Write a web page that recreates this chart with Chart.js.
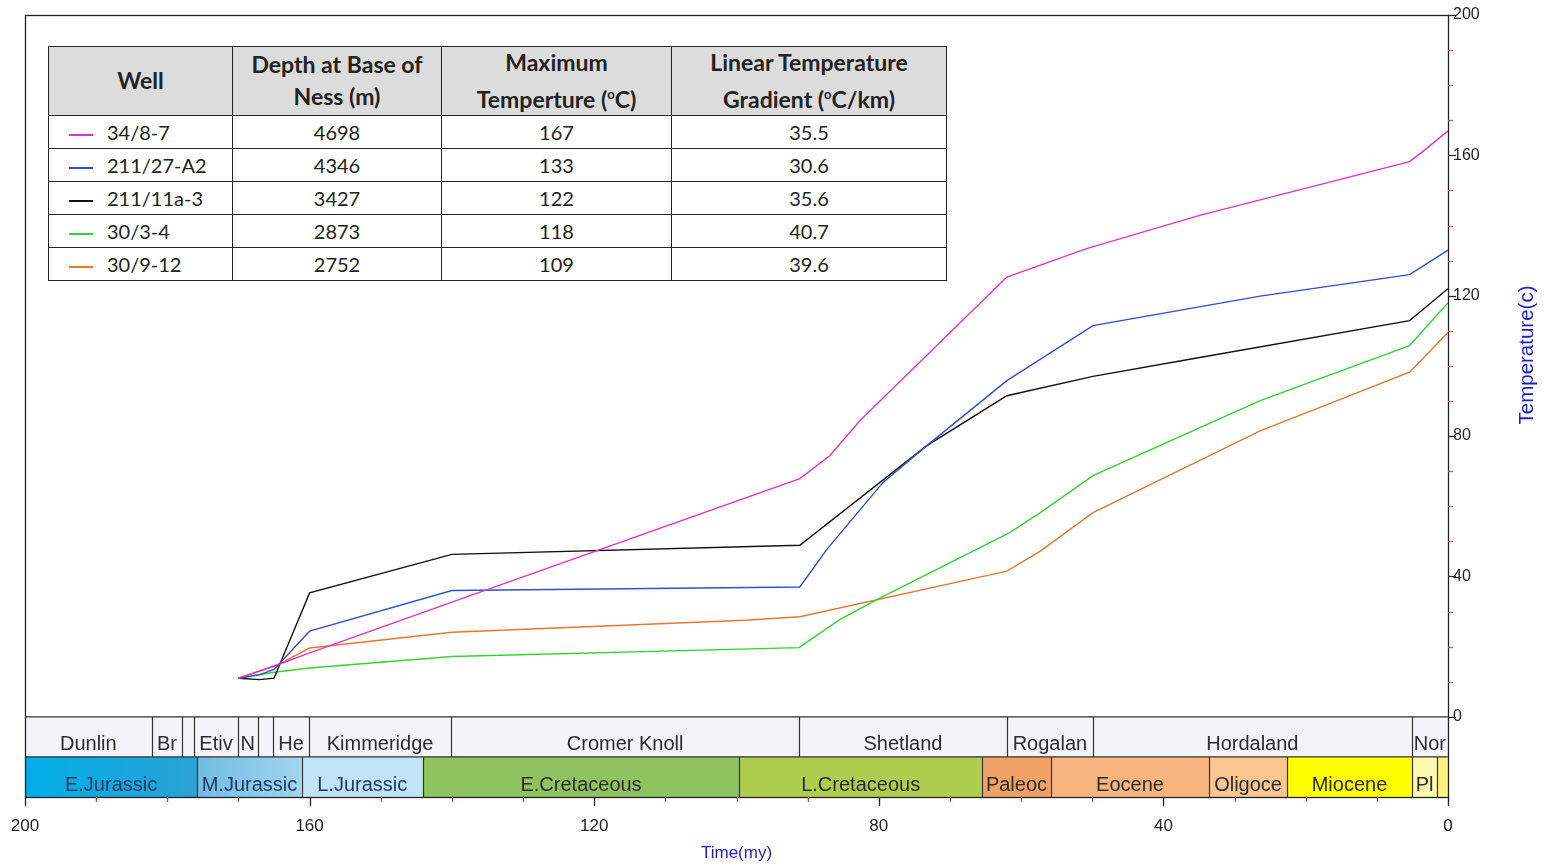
<!DOCTYPE html>
<html>
<head>
<meta charset="utf-8">
<script src="https://cdn.jsdelivr.net/npm/chart.js@4.4.1/dist/chart.umd.min.js"></script>
<style>
html, body { margin: 0; padding: 0; background: #fff; }
#wrap { position: relative; width: 1545px; height: 866px; }
#c { position: absolute; left: 0; top: 0; }
#tbl { position: absolute; left: 48px; top: 46px; border-collapse: collapse; table-layout: fixed;
  font-family: Lato, "Open Sans", sans-serif; font-size: 20px; color: #222; background: #fff; }
#tbl th, #tbl td { border: 1.5px solid #222; padding: 0; text-align: center; white-space: nowrap; }
#tbl th { background: #dcdcdc; font-weight: bold; font-size: 23px; height: 63px; line-height: 31.5px; }
#tbl td { height: 32px; line-height: 32px; }
#tbl td.well { text-align: left; }
#tbl .key { display: inline-block; width: 24px; height: 2px; vertical-align: middle; margin: 0 14px 0 20px; }
#tbl sup { font-size: 13px; }
</style>
</head>
<body>
<div id="wrap">
  <canvas id="c" width="1545" height="866"></canvas>
  <table id="tbl">
    <colgroup><col style="width:184px"><col style="width:209px"><col style="width:230px"><col style="width:275px"></colgroup>
    <thead>
      <tr>
        <th>Well</th>
        <th>Depth at Base of<br>Ness (m)</th>
        <th>Maximum<br>Temperture (<sup>o</sup>C)</th>
        <th>Linear Temperature<br>Gradient (<sup>o</sup>C/km)</th>
      </tr>
    </thead>
    <tbody id="tbody"></tbody>
  </table>
</div>
<script>
"use strict";

// ---- well table ----
var wells = ["34/8-7", "211/27-A2", "211/11a-3", "30/3-4", "30/9-12"];
var nessDepth = [4698, 4346, 3427, 2873, 2752];
var maxTemp = [167, 133, 122, 118, 109];
var tempGradient = ["35.5", "30.6", "35.6", "40.7", "39.6"];
var wellColors = ["#e032c8", "#2f4fd4", "#111111", "#2fd62f", "#e8772e"];

// ---- temperature histories (age in my, temperature in C) ----
var age_34_8_7 = [170, 167, 164.4, 160, 140, 91.1, 86.9, 82.6, 62, 50.8, 34.9, 5.4, 3.6, 0];
var temp_34_8_7 = [11, 13, 14.9, 18.2, 32.7, 67.9, 74.4, 84.5, 125.3, 133.4, 142.9, 158.2, 161, 167];

var age_211_27_A2 = [170, 167, 165, 160, 140, 91.1, 87.3, 79.4, 73.3, 62, 49.9, 26.4, 5.4, 0];
var temp_211_27_A2 = [11, 12, 13.5, 24.4, 36, 37, 47.7, 66.8, 77.2, 95.8, 111.5, 119.9, 126, 133];

var age_211_11a_3 = [170, 167, 165, 160, 140, 91.1, 73.3, 62, 49.9, 34.9, 5.4, 0];
var temp_211_11a_3 = [11, 10.6, 11, 35.3, 46.3, 48.9, 77.2, 91.5, 97, 102.4, 112.9, 122];

var age_30_3_4 = [170, 165, 160, 140, 91.2, 85.5, 79.8, 61.6, 57.3, 49.9, 26.4, 5.4, 0];
var temp_30_3_4 = [11, 12.7, 13.9, 17.2, 19.7, 27.7, 33.9, 52.5, 58.2, 68.7, 90.1, 105.8, 118];

var age_30_9_12 = [170, 164.4, 160, 140, 98.8, 91.1, 62, 57.3, 49.9, 26.4, 5.4, 0];
var temp_30_9_12 = [11, 14.9, 19.6, 24.1, 27.5, 28.5, 41.5, 47.2, 58.2, 81.5, 98.2, 109.5];

// ---- stratigraphy bands ----
var formationBounds = [200, 182.2, 177.9, 176.2, 170.1, 167.3, 165.1, 160.1, 140.1, 91.2, 62, 49.9, 5.1, 0];
var formationNames = ["Dunlin", "Br", "", "Etiv", "N", "", "He", "Kimmeridge", "Cromer Knoll", "Shetland", "Rogalan", "Hordaland", "Nor"];
var epochBounds = [200, 175.8, 161.1, 144.1, 99.6, 65.5, 55.8, 33.6, 22.6, 5.1, 1.5, 0];
var epochNames = ["E.Jurassic", "M.Jurassic", "L.Jurassic", "E.Cretaceous", "L.Cretaceous", "Paleoc", "Eocene", "Oligoce", "Miocene", "Pl", ""];
var epochColors = [["#00aee9", "#2ba2d4"], ["#72bbe2", "#a2d5ee"], ["#bfe4f5", "#bfe4f5"], ["#8ec35f", "#8ec35f"],
  ["#aecc4e", "#aecc4e"], ["#f0a266", "#f0a266"], ["#f8b47e", "#f8b47e"], ["#fcc691", "#fcc691"],
  ["#ffff00", "#ffff00"], ["#fff9ad", "#fff9ad"], ["#fff27c", "#fff27c"]];

var xTicks = [200, 160, 120, 80, 40, 0];
var yTicks = [0, 40, 80, 120, 160, 200];

// fill the table
var tb = document.getElementById("tbody");
wells.forEach(function(w, i) {
  var tr = document.createElement("tr");
  tr.innerHTML = '<td class="well"><span class="key" style="background:' + wellColors[i] + '"></span>' + w + '</td>' +
    '<td>' + nessDepth[i] + '</td><td>' + maxTemp[i] + '</td><td>' + tempGradient[i] + '</td>';
  tb.appendChild(tr);
});

function pts(ages, temps) {
  return ages.map(function(a, i) { return { x: a, y: temps[i] }; });
}

var series = [
  pts(age_34_8_7, temp_34_8_7),
  pts(age_211_27_A2, temp_211_27_A2),
  pts(age_211_11a_3, temp_211_11a_3),
  pts(age_30_3_4, temp_30_3_4),
  pts(age_30_9_12, temp_30_9_12)
];

var BAND_FONT = '20px "Liberation Sans", Arial, sans-serif';

var stratPlugin = {
  id: "strat",
  beforeDatasetsDraw: function(chart) {
    var ctx = chart.ctx, xs = chart.scales.x, ys = chart.scales.y, ca = chart.chartArea;
    var top = ys.getPixelForValue(0), bot = ca.bottom, mid = (top + bot) / 2;
    ctx.save();
    // formation row
    ctx.fillStyle = "#f4f3fb";
    ctx.fillRect(ca.left, top, ca.right - ca.left, mid - top);
    ctx.font = BAND_FONT;
    ctx.textAlign = "center";
    ctx.textBaseline = "alphabetic";
    formationNames.forEach(function(n, i) {
      var x0 = xs.getPixelForValue(formationBounds[i]), x1 = xs.getPixelForValue(formationBounds[i + 1]);
      ctx.save();
      ctx.beginPath(); ctx.rect(x0 + 1, top, x1 - x0 - 2, mid - top); ctx.clip();
      ctx.fillStyle = "#2b2b2b";
      ctx.fillText(n, (x0 + x1) / 2, mid - 7);
      ctx.restore();
    });
    // epoch row
    epochNames.forEach(function(n, i) {
      var x0 = xs.getPixelForValue(epochBounds[i]), x1 = xs.getPixelForValue(epochBounds[i + 1]);
      var g = ctx.createLinearGradient(x0, 0, x1, 0);
      g.addColorStop(0, epochColors[i][0]); g.addColorStop(1, epochColors[i][1]);
      ctx.fillStyle = g;
      ctx.fillRect(x0, mid, x1 - x0, bot - mid);
      ctx.save();
      ctx.beginPath(); ctx.rect(x0 + 1, mid, x1 - x0 - 2, bot - mid); ctx.clip();
      ctx.fillStyle = i < 3 ? "#1d3b66" : "#2b2b2b";
      ctx.fillText(n, (x0 + x1) / 2, bot - 6);
      ctx.restore();
    });
    // cell borders
    ctx.strokeStyle = "#333";
    ctx.lineWidth = 1.2;
    ctx.beginPath();
    ctx.moveTo(ca.left, top); ctx.lineTo(ca.right, top);
    ctx.moveTo(ca.left, mid); ctx.lineTo(ca.right, mid);
    formationBounds.slice(1, -1).forEach(function(b) {
      var x = Math.round(xs.getPixelForValue(b)) + 0.5;
      ctx.moveTo(x, top); ctx.lineTo(x, mid);
    });
    epochBounds.slice(1, -1).forEach(function(b) {
      var x = Math.round(xs.getPixelForValue(b)) + 0.5;
      ctx.moveTo(x, mid); ctx.lineTo(x, bot);
    });
    ctx.stroke();
    ctx.restore();
  },
  afterDraw: function(chart) {
    var ctx = chart.ctx, xs = chart.scales.x, ys = chart.scales.y, ca = chart.chartArea;
    ctx.save();
    // frame
    ctx.strokeStyle = "#222";
    ctx.lineWidth = 1.3;
    ctx.strokeRect(ca.left + 0.5, ca.top + 0.5, ca.right - ca.left, ca.bottom - ca.top);
    // x ticks every 10 my
    for (var a = 0; a <= 200; a += 10) {
      var x = Math.round(xs.getPixelForValue(a)) + 0.5;
      var major = a % 40 === 0;
      ctx.strokeStyle = major ? "#222" : "#b45a5a";
      ctx.beginPath(); ctx.moveTo(x, ca.bottom); ctx.lineTo(x, ca.bottom + (major ? 9 : 5)); ctx.stroke();
    }
    // y ticks every 10 C
    for (var t = 0; t <= 200; t += 10) {
      var y = Math.round(ys.getPixelForValue(t)) + 0.5;
      var maj = t % 40 === 0;
      ctx.strokeStyle = maj ? "#222" : "#b45a5a";
      ctx.beginPath(); ctx.moveTo(ca.right, y); ctx.lineTo(ca.right + (maj ? 8 : 5), y); ctx.stroke();
    }
    // axis titles
    ctx.fillStyle = "#1c1cc8";
    ctx.font = '17px "Liberation Sans", Arial, sans-serif';
    ctx.textAlign = "center";
    ctx.textBaseline = "middle";
    ctx.fillText("Time(my)", (ca.left + ca.right) / 2, 853);
    ctx.translate(1527, 355);
    ctx.rotate(-Math.PI / 2);
    ctx.font = '20.5px "Liberation Sans", Arial, sans-serif';
    ctx.fillText("Temperature(c)", 0, 0);
    ctx.restore();
  }
};

new Chart(document.getElementById("c").getContext("2d"), {
  type: "line",
  data: {
    datasets: series.map(function(s, i) {
      return {
        label: wells[i],
        data: s,
        borderColor: wellColors[i],
        borderWidth: 1.4,
        pointRadius: 0,
        tension: 0,
        fill: false
      };
    })
  },
  options: {
    responsive: false,
    animation: false,
    devicePixelRatio: 1,
    layout: { padding: { left: 25, top: 15, right: 0, bottom: 0 } },
    plugins: { legend: { display: false }, tooltip: { enabled: false } },
    scales: {
      x: {
        type: "linear",
        reverse: true,
        min: 0,
        max: 200,
        grid: { display: false, drawTicks: false },
        border: { display: false },
        afterBuildTicks: function(s) { s.ticks = xTicks.map(function(v) { return { value: v }; }); },
        afterFit: function(s) { s.height = 69; s.paddingLeft = 0; s.paddingRight = 0; },
        ticks: { padding: 19, color: "#222", font: { family: '"Liberation Sans", Arial, sans-serif', size: 17 }, maxRotation: 0, autoSkip: false }
      },
      y: {
        type: "linear",
        position: "right",
        min: -80 / 3.5,
        max: 200,
        grid: { display: false, drawTicks: false },
        border: { display: false },
        afterBuildTicks: function(s) { s.ticks = yTicks.map(function(v) { return { value: v }; }); },
        afterFit: function(s) { s.width = 97; s.paddingTop = 0; s.paddingBottom = 0; },
        ticks: { padding: 5, color: "#222", font: { family: '"Liberation Sans", Arial, sans-serif', size: 16 } }
      }
    }
  },
  plugins: [stratPlugin]
});
</script>
</body>
</html>
